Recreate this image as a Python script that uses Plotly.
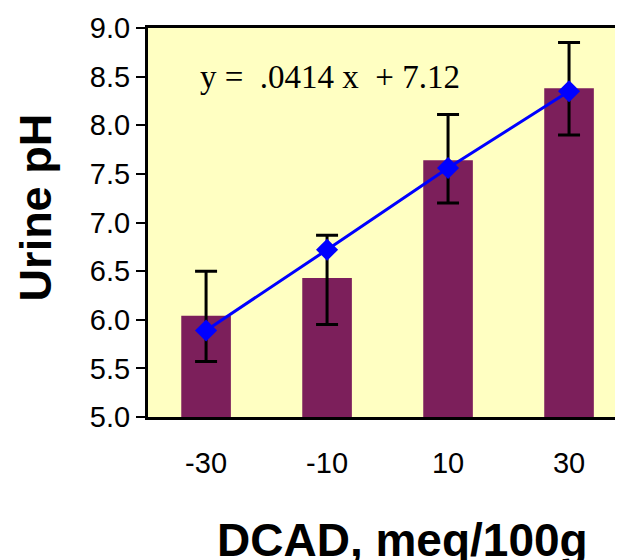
import plotly.graph_objects as go

categories = ["-30", "-10", "10", "30"]
bar_means = [6.04, 6.43, 7.64, 8.38]
err_plus = [0.46, 0.44, 0.47, 0.47]
err_minus = [0.47, 0.48, 0.44, 0.48]
fit_values = [5.89, 6.72, 7.56, 8.35]
y_ticks = [5.0, 5.5, 6.0, 6.5, 7.0, 7.5, 8.0, 8.5, 9.0]
equation = "y =\u00a0\u00a0.0414 x\u00a0\u00a0+ 7.12"

xpos = list(range(len(categories)))

fig = go.Figure()
fig.add_trace(go.Bar(
    x=xpos, y=bar_means, width=0.41,
    marker=dict(color="#7C1F5B", line=dict(width=0)),
    error_y=dict(type="data", symmetric=False, array=err_plus, arrayminus=err_minus,
                 color="black", thickness=3, width=11),
    showlegend=False,
))
fig.add_trace(go.Scatter(
    x=xpos, y=fit_values, mode="lines+markers",
    line=dict(color="#0000FF", width=3),
    marker=dict(symbol="diamond", size=17, color="#0000FF"),
    showlegend=False,
))

fig.update_layout(
    width=615, height=552,
    margin=dict(l=140, r=0, t=20, b=143),
    paper_bgcolor="white", plot_bgcolor="#FFFFC2",
    font=dict(family="Liberation Sans, Arial", color="black"),
    xaxis=dict(range=[-0.48, 3.446], tickmode="array", tickvals=xpos, ticktext=categories,
               showgrid=False, zeroline=False, showline=True, linecolor="black", linewidth=3,
               mirror=True, ticks="outside", ticklen=18, tickcolor="rgba(0,0,0,0)",
               tickfont=dict(size=29)),
    yaxis=dict(range=[5.0, 9.0], tickmode="array", tickvals=y_ticks,
               ticktext=[f"{v:.1f}" for v in y_ticks],
               showgrid=False, zeroline=False, showline=True, linecolor="black", linewidth=3,
               ticks="outside", ticklen=9, tickwidth=2, tickcolor="black",
               tickfont=dict(size=29)),
    annotations=[
        dict(text=equation, xref="paper", yref="y", x=0.105, y=8.5, xanchor="left",
             yanchor="middle", showarrow=False,
             font=dict(family="Liberation Serif, Times New Roman", size=33, color="black")),
        dict(text="<b>DCAD, meq/100g</b>", xref="paper", yref="paper", x=0.536, y=-0.316,
             xanchor="center", yanchor="middle", showarrow=False,
             font=dict(size=46, color="black")),
        dict(text="<b>Urine pH</b>", xref="paper", yref="paper", x=-0.236, y=0.5386,
             xanchor="center", yanchor="middle", textangle=-90, showarrow=False,
             font=dict(size=45, color="black")),
    ],
)

fig.write_html("out.html")
